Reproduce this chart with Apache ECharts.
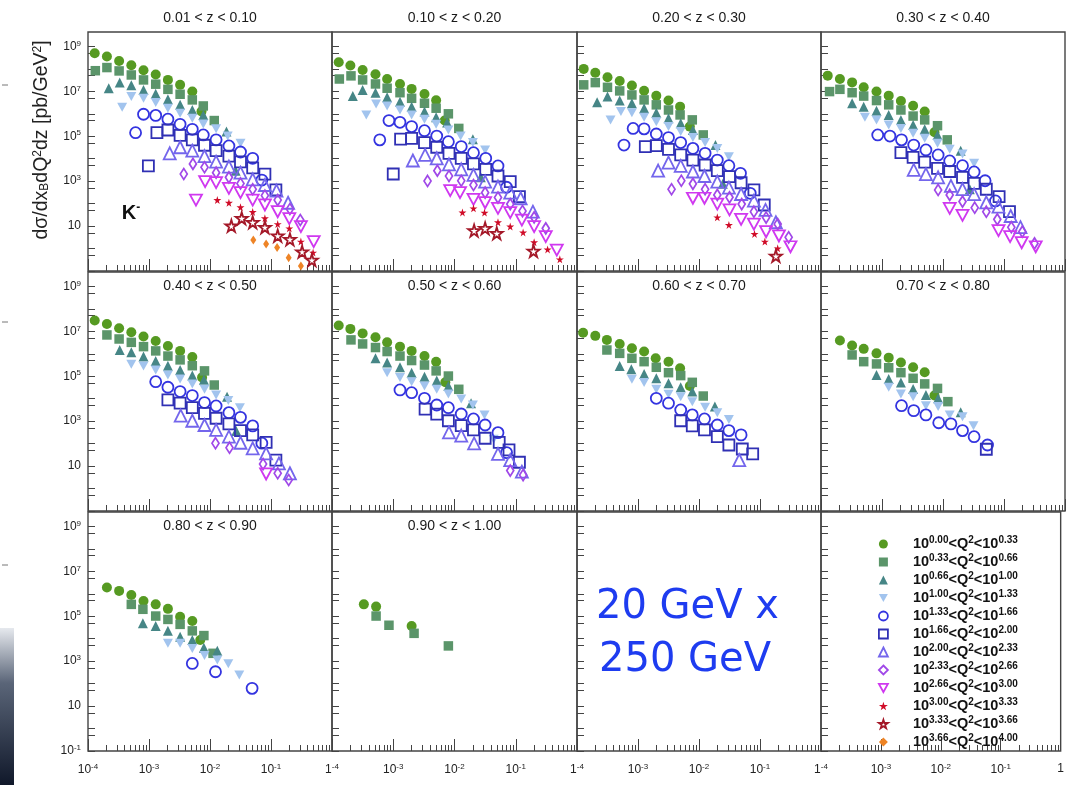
<!DOCTYPE html>
<html><head><meta charset="utf-8">
<script src="https://cdn.jsdelivr.net/npm/echarts@6/dist/echarts.min.js"></script>
<style>html,body{margin:0;padding:0;background:#fff}#c{width:1067px;height:785px}</style>
</head><body><div id="c"></div><script>
// ---- data: each point is [log10(x_B), log10(dsigma)] ----
const zLabels = ['0.01 < z < 0.10','0.10 < z < 0.20','0.20 < z < 0.30','0.30 < z < 0.40','0.40 < z < 0.50',
                 '0.50 < z < 0.60','0.60 < z < 0.70','0.70 < z < 0.80','0.80 < z < 0.90','0.90 < z < 1.00'];
const q2Edges = ['0.00','0.33','0.66','1.00','1.33','1.66','2.00','2.33','2.66','3.00','3.33','3.66','4.00'];
const xLabelVals = [1e-4,1e-3,1e-2,1e-1,1];
const yLabelVals = [1e-1,10,1e3,1e5,1e7,1e9];
const yTickVals = [0.1,0.5,1,5,10,50,100,500,1e3,5e3,1e4,5e4,1e5,5e5,1e6,5e6,1e7,5e7,1e8,5e8,1e9];

const z01_10 = [
 [[-3.89,8.70],[-3.69,8.55],[-3.49,8.35],[-3.29,8.16],[-3.09,7.94],[-2.89,7.75],[-2.69,7.51],[-2.49,7.29],[-2.29,6.99],[-2.14,6.10]],
 [[-3.88,7.92],[-3.69,8.06],[-3.49,7.91],[-3.29,7.73],[-3.09,7.51],[-2.89,7.32],[-2.69,7.09],[-2.49,6.87],[-2.29,6.62],[-2.11,6.35],[-1.93,5.70]],
 [[-3.66,7.14],[-3.48,7.40],[-3.29,7.27],[-3.09,7.06],[-2.89,6.89],[-2.69,6.65],[-2.49,6.40],[-2.29,6.17],[-2.11,5.95],[-1.73,5.21],[-1.58,3.47]],
 [[-3.44,6.29],[-3.29,6.77],[-3.09,6.69],[-2.89,6.50],[-2.69,6.25],[-2.49,6.02],[-2.29,5.80],[-2.11,5.55],[-1.90,5.33],[-1.71,5.01],[-1.50,4.69]],
 [[-3.22,5.16],[-3.09,5.98],[-2.89,5.93],[-2.69,5.76],[-2.49,5.53],[-2.29,5.31],[-2.11,5.06],[-1.90,4.84],[-1.69,4.57],[-1.50,4.30],[-1.30,4.02],[-1.15,3.05]],
 [[-3.01,3.68],[-2.87,5.16],[-2.69,5.28],[-2.49,5.04],[-2.29,4.84],[-2.09,4.60],[-1.90,4.36],[-1.69,4.12],[-1.50,3.86],[-1.30,3.59],[-1.10,3.31],[-0.92,2.61]],
 [[-2.66,4.24],[-2.49,4.51],[-2.29,4.36],[-2.09,4.12],[-1.90,3.87],[-1.69,3.65],[-1.50,3.38],[-1.30,3.08],[-1.10,2.83],[-0.91,2.58],[-0.72,2.04]],
 [[-2.43,3.32],[-2.28,3.77],[-2.09,3.62],[-1.90,3.38],[-1.69,3.17],[-1.50,2.90],[-1.30,2.64],[-1.10,2.36],[-0.89,2.16],[-0.69,1.76],[-0.52,1.27]],
 [[-2.23,2.16],[-2.08,2.98],[-1.90,2.94],[-1.69,2.68],[-1.50,2.49],[-1.30,2.16],[-1.10,1.94],[-0.89,1.64],[-0.70,1.33],[-0.51,0.98],[-0.30,0.31]],
 [[-1.88,2.16],[-1.69,2.04],[-1.50,1.84],[-1.30,1.63],[-1.10,1.35],[-0.89,1.09],[-0.70,0.90],[-0.51,0.31],[-0.31,-0.18]],
 [[-1.65,1.01],[-1.48,1.35],[-1.30,1.17],[-1.10,0.95],[-0.89,0.57],[-0.69,0.41],[-0.49,-0.14],[-0.33,-0.51]],
 [[-1.29,0.38],[-1.08,0.20],[-0.90,0.05],[-0.71,-0.41],[-0.51,-0.78]]
];
const z10_20 = [
 [[-3.89,8.30],[-3.70,8.15],[-3.50,7.95],[-3.29,7.76],[-3.10,7.55],[-2.89,7.33],[-2.70,7.11],[-2.49,6.88],[-2.30,6.60],[-2.16,5.70]],
 [[-3.88,7.55],[-3.69,7.69],[-3.50,7.51],[-3.29,7.33],[-3.10,7.14],[-2.89,6.94],[-2.70,6.69],[-2.49,6.47],[-2.30,6.25],[-2.10,6.00],[-1.93,5.35]],
 [[-3.66,6.79],[-3.50,7.06],[-3.29,6.94],[-3.10,6.74],[-2.89,6.54],[-2.70,6.32],[-2.49,6.10],[-2.30,5.85],[-2.12,5.61],[-1.70,4.87],[-1.57,3.17]],
 [[-3.44,5.95],[-3.28,6.44],[-3.10,6.35],[-2.89,6.17],[-2.70,5.95],[-2.49,5.76],[-2.30,5.53],[-2.10,5.28],[-1.90,5.01],[-1.70,4.72],[-1.50,4.39]],
 [[-3.22,4.84],[-3.07,5.70],[-2.89,5.62],[-2.70,5.43],[-2.49,5.25],[-2.29,5.01],[-2.10,4.76],[-1.89,4.54],[-1.69,4.27],[-1.49,4.02],[-1.29,3.68],[-1.15,2.73]],
 [[-3.00,3.32],[-2.88,4.87],[-2.70,4.91],[-2.49,4.72],[-2.29,4.51],[-2.09,4.24],[-1.89,4.02],[-1.69,3.77],[-1.49,3.53],[-1.29,3.23],[-1.09,2.98],[-0.94,2.31]],
 [[-2.68,3.92],[-2.48,4.17],[-2.29,4.02],[-2.09,3.75],[-1.89,3.53],[-1.69,3.28],[-1.50,2.98],[-1.29,2.76],[-1.09,2.49],[-0.92,2.24],[-0.72,1.64]],
 [[-2.44,3.01],[-2.28,3.47],[-2.09,3.23],[-1.89,3.02],[-1.69,2.83],[-1.50,2.49],[-1.29,2.27],[-1.09,1.98],[-0.89,1.67],[-0.70,1.39],[-0.51,0.90]],
 [[-2.07,2.58],[-1.91,2.49],[-1.69,2.19],[-1.50,2.04],[-1.29,1.79],[-1.09,1.60],[-0.90,1.27],[-0.70,0.98],[-0.51,0.53],[-0.33,-0.07]],
 [[-1.87,1.61],[-1.69,1.79],[-1.51,1.60],[-1.29,1.17],[-1.09,0.98],[-0.88,0.72],[-0.70,0.28],[-0.48,-0.04],[-0.28,-0.48]],
 [[-1.68,0.80],[-1.50,0.90],[-1.31,0.68],[-0.71,-0.11]],
 []
];
const z20_30 = [
 [[-3.89,8.00],[-3.70,7.83],[-3.50,7.63],[-3.30,7.46],[-3.10,7.26],[-2.90,7.03],[-2.70,6.80],[-2.50,6.59],[-2.31,6.32],[-2.15,5.43]],
 [[-3.89,7.29],[-3.70,7.39],[-3.50,7.18],[-3.30,7.02],[-3.10,6.84],[-2.90,6.62],[-2.70,6.40],[-2.50,6.17],[-2.31,5.95],[-2.11,5.73],[-1.93,5.06]],
 [[-3.67,6.51],[-3.50,6.77],[-3.30,6.59],[-3.10,6.47],[-2.90,6.25],[-2.70,6.05],[-2.50,5.80],[-2.30,5.58],[-2.10,5.28],[-1.73,4.61],[-1.61,2.88]],
 [[-3.45,5.73],[-3.28,6.10],[-3.10,6.05],[-2.90,5.85],[-2.70,5.65],[-2.50,5.43],[-2.30,5.21],[-2.10,4.95],[-1.90,4.72],[-1.70,4.46],[-1.51,4.09]],
 [[-3.23,4.61],[-3.08,5.35],[-2.90,5.33],[-2.70,5.10],[-2.50,4.94],[-2.30,4.72],[-2.10,4.46],[-1.90,4.24],[-1.70,3.94],[-1.51,3.69],[-1.32,3.35],[-1.16,2.46]],
 [[-2.88,4.54],[-2.70,4.58],[-2.50,4.42],[-2.30,4.17],[-2.10,3.94],[-1.90,3.72],[-1.70,3.47],[-1.50,3.20],[-1.31,2.93],[-1.10,2.61],[-0.93,1.94]],
 [[-2.67,3.47],[-2.50,3.83],[-2.30,3.68],[-2.10,3.43],[-1.91,3.23],[-1.70,2.98],[-1.51,2.71],[-1.31,2.43],[-1.10,2.13],[-0.91,1.72],[-0.74,1.17]],
 [[-2.45,2.64],[-2.29,3.02],[-2.10,2.88],[-1.90,2.64],[-1.70,2.39],[-1.50,2.28],[-1.30,1.98],[-1.10,1.64],[-0.90,1.38],[-0.71,1.09],[-0.53,0.50]],
 [[-2.10,2.24],[-1.91,2.24],[-1.70,1.98],[-1.50,1.72],[-1.31,1.30],[-1.10,1.09],[-0.90,0.75],[-0.69,0.56],[-0.50,0.08]],
 [[-1.70,1.39],[-1.51,1.05],[-1.09,0.65],[-0.92,0.31],[-0.71,0.01]],
 [[-0.74,-0.33]],
 []
];
const z30_40 = [
 [[-3.89,7.70],[-3.69,7.55],[-3.49,7.40],[-3.30,7.18],[-3.09,6.99],[-2.89,6.81],[-2.69,6.57],[-2.49,6.36],[-2.30,6.10],[-2.14,5.18]],
 [[-3.86,6.99],[-3.69,7.09],[-3.49,6.94],[-3.30,6.79],[-3.09,6.59],[-2.89,6.40],[-2.69,6.17],[-2.49,5.90],[-2.30,5.73],[-2.09,5.47],[-1.93,4.84]],
 [[-3.49,6.47],[-3.30,6.32],[-3.09,6.14],[-2.89,5.95],[-2.69,5.73],[-2.49,5.50],[-2.30,5.31],[-2.09,5.06],[-1.71,4.35],[-1.56,2.64]],
 [[-3.28,5.85],[-3.09,5.73],[-2.89,5.50],[-2.69,5.35],[-2.49,5.13],[-2.30,4.91],[-2.09,4.69],[-1.89,4.42],[-1.68,4.21],[-1.49,3.80]],
 [[-3.07,5.06],[-2.87,5.01],[-2.68,4.84],[-2.48,4.61],[-2.28,4.39],[-2.08,4.17],[-1.89,3.90],[-1.68,3.69],[-1.49,3.41],[-1.31,3.02],[-1.14,2.12]],
 [[-2.69,4.27],[-2.49,4.06],[-2.30,3.85],[-2.09,3.57],[-1.89,3.43],[-1.68,3.17],[-1.49,2.90],[-1.29,2.64],[-1.08,2.31],[-0.91,1.64]],
 [[-2.48,3.50],[-2.28,3.31],[-2.08,3.17],[-1.87,2.79],[-1.68,2.65],[-1.49,2.42],[-1.29,2.06],[-1.09,1.87],[-0.89,1.45],[-0.73,0.95]],
 [[-2.08,2.61],[-1.89,2.39],[-1.68,2.09],[-1.48,1.82],[-1.29,1.64],[-1.11,1.30],[-0.88,0.95],[-0.70,0.75],[-0.50,0.23]],
 [[-1.89,1.79],[-1.68,1.48],[-1.09,0.80],[-0.90,0.53],[-0.71,0.26],[-0.48,0.08]],
 [],[],[]
];
const z40_50 = [
 [[-3.89,7.48],[-3.69,7.33],[-3.49,7.14],[-3.29,6.96],[-3.09,6.77],[-2.89,6.57],[-2.69,6.35],[-2.49,6.13],[-2.29,5.86],[-2.13,4.95]],
 [[-3.69,6.84],[-3.49,6.66],[-3.29,6.51],[-3.09,6.32],[-2.89,6.13],[-2.69,5.90],[-2.49,5.73],[-2.29,5.47],[-2.09,5.24],[-1.93,4.61]],
 [[-3.48,6.17],[-3.29,6.07],[-3.09,5.88],[-2.89,5.68],[-2.69,5.47],[-2.49,5.28],[-2.29,5.03],[-2.10,4.84],[-1.72,4.09],[-1.57,2.56]],
 [[-3.29,5.53],[-3.09,5.46],[-2.89,5.28],[-2.69,5.06],[-2.49,4.88],[-2.29,4.66],[-2.09,4.42],[-1.90,4.17],[-1.70,3.92],[-1.51,3.60]],
 [[-2.89,4.76],[-2.69,4.51],[-2.49,4.32],[-2.29,4.14],[-2.09,3.83],[-1.90,3.68],[-1.69,3.38],[-1.50,3.17],[-1.30,2.79],[-1.15,2.02]],
 [[-2.69,3.95],[-2.49,3.80],[-2.29,3.60],[-2.09,3.35],[-1.90,3.13],[-1.69,2.88],[-1.50,2.58],[-1.30,2.39],[-1.08,2.06],[-0.92,1.27]],
 [[-2.48,3.25],[-2.29,3.02],[-2.09,2.83],[-1.90,2.61],[-1.69,2.31],[-1.50,2.04],[-1.30,1.79],[-1.08,1.57],[-0.87,1.12],[-0.69,0.68]],
 [[-1.91,2.02],[-1.68,1.82],[-1.13,1.09],[-0.89,0.68],[-0.71,0.38]],
 [[-1.08,0.65]],
 [],[],[]
];
const z50_60 = [
 [[-3.89,7.26],[-3.70,7.11],[-3.50,6.91],[-3.29,6.74],[-3.10,6.51],[-2.89,6.32],[-2.70,6.13],[-2.49,5.90],[-2.30,5.65],[-2.15,4.73]],
 [[-3.69,6.62],[-3.50,6.44],[-3.29,6.28],[-3.10,6.10],[-2.89,5.90],[-2.70,5.70],[-2.49,5.50],[-2.30,5.24],[-2.10,5.01],[-1.93,4.42]],
 [[-3.29,5.80],[-3.10,5.61],[-2.89,5.40],[-2.70,5.16],[-2.49,4.98],[-2.29,4.81],[-2.10,4.57],[-1.73,3.80]],
 [[-3.10,5.16],[-2.89,4.95],[-2.70,4.76],[-2.49,4.57],[-2.29,4.42],[-2.10,4.21],[-1.89,3.99],[-1.70,3.72],[-1.51,3.28],[-1.36,2.19]],
 [[-2.89,4.39],[-2.70,4.27],[-2.49,4.02],[-2.29,3.72],[-2.10,3.60],[-1.89,3.32],[-1.69,3.10],[-1.50,2.83],[-1.29,2.49],[-1.15,1.60]],
 [[-2.48,3.54],[-2.29,3.31],[-2.10,3.02],[-1.89,2.80],[-1.69,2.61],[-1.50,2.24],[-1.27,2.06],[-1.11,1.72],[-0.94,1.17]],
 [[-2.09,2.50],[-1.89,2.36],[-1.68,2.01],[-1.29,1.54],[-1.09,1.27],[-0.90,0.75]],
 [[-1.09,0.80],[-0.88,0.60]],
 [],[],[],[]
];
const z60_70 = [
 [[-3.90,6.94],[-3.70,6.80],[-3.51,6.62],[-3.30,6.44],[-3.10,6.25],[-2.90,6.10],[-2.71,5.80],[-2.50,5.65],[-2.31,5.36],[-2.15,4.57]],
 [[-3.51,6.17],[-3.30,6.02],[-3.10,5.80],[-2.90,5.65],[-2.70,5.40],[-2.50,5.16],[-2.30,5.03],[-2.11,4.73],[-1.93,4.12]],
 [[-3.30,5.46],[-3.11,5.31],[-2.90,5.10],[-2.70,4.91],[-2.50,4.69],[-2.30,4.51],[-2.11,4.32],[-1.74,3.65]],
 [[-3.10,4.87],[-2.90,4.72],[-2.70,4.42],[-2.50,4.20],[-2.30,4.09],[-2.11,3.87],[-1.90,3.62],[-1.70,3.38],[-1.51,3.08]],
 [[-2.70,4.02],[-2.50,3.80],[-2.30,3.50],[-2.11,3.28],[-1.91,3.10],[-1.70,2.83],[-1.51,2.58],[-1.31,2.39]],
 [[-2.30,3.02],[-2.11,2.79],[-1.91,2.61],[-1.70,2.31],[-1.51,1.94],[-1.29,1.76],[-1.12,1.54]],
 [[-1.34,1.27]],
 [],[],[],[],[]
];
const z70_80 = [
 [[-3.69,6.59],[-3.49,6.37],[-3.30,6.22],[-3.09,6.02],[-2.89,5.83],[-2.69,5.61],[-2.49,5.40],[-2.30,5.18],[-2.14,4.14]],
 [[-3.49,5.95],[-3.30,5.65],[-3.09,5.55],[-2.89,5.38],[-2.69,5.16],[-2.49,4.91],[-2.30,4.66],[-2.09,4.46],[-1.92,3.87]],
 [[-3.09,5.06],[-2.89,4.88],[-2.69,4.72],[-2.49,4.43],[-2.28,4.17],[-2.08,4.02],[-1.71,3.40]],
 [[-2.89,4.51],[-2.69,4.21],[-2.49,4.09],[-2.28,3.69],[-2.08,3.65],[-1.89,3.28],[-1.68,3.20],[-1.50,2.80]],
 [[-2.68,3.69],[-2.48,3.47],[-2.28,3.28],[-2.07,2.93],[-1.87,2.88],[-1.68,2.58],[-1.49,2.31],[-1.27,1.94]],
 [[-1.29,1.75]],
 [],[],[],[],[],[]
];
const z80_90 = [
 [[-3.69,6.28],[-3.49,6.13],[-3.29,5.95],[-3.09,5.68],[-2.89,5.53],[-2.69,5.33],[-2.49,4.98],[-2.29,4.79],[-2.16,3.94]],
 [[-3.29,5.53],[-3.10,5.31],[-2.89,5.01],[-2.69,4.86],[-2.49,4.64],[-2.29,4.35],[-2.10,4.14],[-1.95,3.35]],
 [[-3.10,4.69],[-2.89,4.57],[-2.69,4.35],[-2.49,4.09],[-2.29,3.94],[-2.10,3.60],[-1.88,3.47]],
 [[-2.69,3.80],[-2.49,3.80],[-2.29,3.57],[-2.09,3.25],[-1.88,3.05],[-1.70,2.88],[-1.52,2.39]],
 [[-2.29,2.90],[-1.91,2.53],[-1.31,1.79]],
 [],[],[],[],[],[],[]
];
const z90_100 = [
 [[-3.48,5.53],[-3.28,5.43],[-2.70,4.57]],
 [[-3.28,5.01],[-3.07,4.60],[-2.66,4.24],[-2.10,3.68]],
 [],[],[],[],[],[],[],[],[],[]
];
const panelData = [z01_10,z10_20,z20_30,z30_40,z40_50,z50_60,z60_70,z70_80,z80_90,z90_100];

// ---- styles ----
const STAR = 'path://M50,0L61,35L98,35L68,57L79,91L50,70L21,91L32,57L2,35L39,35Z';
const INVTRI = 'path://M0,0L10,0L5,9Z';
const markers = [
 {symbol:'circle', size:10, color:'#569a22', hollow:false},
 {symbol:'rect', size:9.5, color:'#5b956a', hollow:false},
 {symbol:'triangle', size:10, color:'#468686', hollow:false},
 {symbol:INVTRI, size:[10,9], color:'#a2c4ee', hollow:false},
 {symbol:'circle', size:11, color:'#3434e0', hollow:true},
 {symbol:'rect', size:11, color:'#3030b4', hollow:true},
 {symbol:'triangle', size:12, color:'#7466ec', hollow:true},
 {symbol:'diamond', size:[7,11], color:'#a048e8', hollow:true},
 {symbol:INVTRI, size:[12,11], color:'#d038f0', hollow:true},
 {symbol:STAR, size:8, color:'#d00c28', hollow:false},
 {symbol:STAR, size:12, color:'#a41828', hollow:true},
 {symbol:'diamond', size:[6,9], color:'#ee8426', hollow:false}
];
const seriesNames = markers.map((m,k)=>'10^' + q2Edges[k] + '<Q^2<10^' + q2Edges[k+1]);
function styleOf(m){
  return m.hollow ? {color:'rgba(255,255,255,0)', borderColor:m.color, borderWidth:1.8, opacity:1}
                  : {color:m.color, borderWidth:0, opacity:1};
}
function exp10(v){ return Math.round(Math.log10(v)); }

const colLeft=[88,332,577,821], colW=[244,245,244,244], rowTop=[32,272,512], H=239;
const font='"Liberation Sans", Arial, sans-serif';
const grid=[], xAxis=[], yAxis=[], series=[], graphic=[];

for(let i=0;i<12;i++){
  const r=Math.floor(i/4), c=i%4;
  grid.push({left:colLeft[c], top:rowTop[r], width:colW[c], height:H, show:true,
             borderColor:'#444', borderWidth:1.4, backgroundColor:'rgba(0,0,0,0)'});
  const xl = c===3 ? xLabelVals : xLabelVals.slice(0,4);
  xAxis.push({type:'log', logBase:10, gridIndex:i, min:1e-4, max:1,
    axisLine:{show:false}, splitLine:{show:false},
    axisTick:{show:true, inside:true, length:12, lineStyle:{color:'#444', width:1}},
    minorTick:{show:true, splitNumber:9, length:6, lineStyle:{color:'#444', width:1}},
    axisLabel: r===2 ? {show:true, customValues:xl, margin:12, fontSize:12, color:'#222', fontFamily:font,
        formatter:(v)=>{const e=exp10(v); if(e===0) return '1'; return (c>0 && e===-4 ? '1' : '10') + '{s|' + e + '}';},
        rich:{s:{fontSize:8, color:'#222', fontFamily:font, padding:[0,0,6,0]}}} : {show:false}
  });
  yAxis.push({type:'log', logBase:10, gridIndex:i, min:0.1, max:4.4e9,
    axisLine:{show:false}, splitLine:{show:false},
    axisTick:{show:true, inside:true, length:7, customValues:yTickVals, lineStyle:{color:'#444', width:1}},
    axisLabel: c===0 ? {show:true, customValues: r===2 ? yLabelVals : yLabelVals.slice(1), margin:7, fontSize:12, color:'#222', fontFamily:font,
        formatter:(v)=>{const e=exp10(v); return e===1 ? '10' : '10{s|' + e + '}';},
        rich:{s:{fontSize:8, color:'#222', fontFamily:font, padding:[0,0,6,0]}}} : {show:false}
  });
  if(i<panelData.length){
    panelData[i].forEach((pts,k)=>{
      if(!pts.length) return;
      const m=markers[k];
      series.push({type:'scatter', name:seriesNames[k], xAxisIndex:i, yAxisIndex:i,
        symbol:m.symbol, symbolSize:m.size, itemStyle:styleOf(m), z:2+k*0.01,
        data: pts.map(p=>[Math.pow(10,p[0]), Math.pow(10,p[1])])});
    });
    const cx = colLeft[c] + colW[c]/2;
    const ty = r===0 ? 18 : rowTop[r] + 14;
    graphic.push({type:'text', x:cx, y:ty, style:{text:zLabels[i], fontSize:14, fill:'#1a1a1a', fontFamily:font, align:'center', verticalAlign:'middle'}});
  }
}

graphic.push(
  {type:'text', x:42, y:140, rotation:Math.PI/2,
   style:{text:'dσ/dx{b|B}dQ{t|2}dz [pb/GeV{t|2}]', fontSize:19.5, fill:'#222', fontFamily:font, align:'center', verticalAlign:'middle',
          rich:{b:{fontSize:12, fontFamily:font, fill:'#222', padding:[6,0,0,0]}, t:{fontSize:12, fontFamily:font, fill:'#222', padding:[0,0,8,0]}}}},
  {type:'text', x:131, y:213,
   style:{text:'K{t|-}', fontSize:20, fontWeight:'bold', fill:'#111', fontFamily:font, align:'center', verticalAlign:'middle',
          rich:{t:{fontSize:12, fontWeight:'bold', fontFamily:font, fill:'#111', padding:[0,0,10,0]}}}},
  {type:'text', x:596, y:608, style:{text:'20 GeV x', fontSize:40, fill:'#1e3cf0', fontFamily:'"DejaVu Sans", sans-serif', align:'left', verticalAlign:'middle'}},
  {type:'text', x:599, y:661, style:{text:'250 GeV', fontSize:40, fill:'#1e3cf0', fontFamily:'"DejaVu Sans", sans-serif', align:'left', verticalAlign:'middle'}},
  {type:'rect', shape:{x:0, y:628, width:14, height:157},
   style:{fill:{type:'linear', x:0, y:0, x2:0, y2:1, colorStops:[{offset:0,color:'#e6e9ee'},{offset:0.35,color:'#5a6578'},{offset:1,color:'#10182a'}]}}},
  {type:'line', shape:{x1:2, y1:85, x2:8, y2:85}, style:{stroke:'#777', lineWidth:1}},
  {type:'line', shape:{x1:2, y1:322, x2:8, y2:322}, style:{stroke:'#777', lineWidth:1}},
  {type:'line', shape:{x1:2, y1:565, x2:8, y2:565}, style:{stroke:'#777', lineWidth:1}}
);

const chart = echarts.init(document.getElementById('c'), null, {renderer:'canvas'});
chart.setOption({
  backgroundColor:'#ffffff',
  animation:false,
  grid, xAxis, yAxis, series, graphic,
  legend:{
    orient:'vertical', left:878, top:535, padding:0, itemWidth:9, itemHeight:9, itemGap:0, selectedMode:false,
    data: markers.map((m,k)=>({name:seriesNames[k], icon:m.symbol, itemStyle:styleOf(m)})),
    formatter:(name)=>{const k=seriesNames.indexOf(name);
      return '{g|}{t|10}{s|' + q2Edges[k] + '}{t|<Q}{s|2}{t|<10}{s|' + q2Edges[k+1] + '}';},
    textStyle:{rich:{
      g:{width:20, lineHeight:15},
      t:{fontSize:14.5, fontWeight:'bold', color:'#111', fontFamily:font, lineHeight:15},
      s:{fontSize:10, fontWeight:'bold', color:'#111', fontFamily:font, lineHeight:7, padding:[0,0,8,0]}
    }}
  }
});
</script></body></html>
